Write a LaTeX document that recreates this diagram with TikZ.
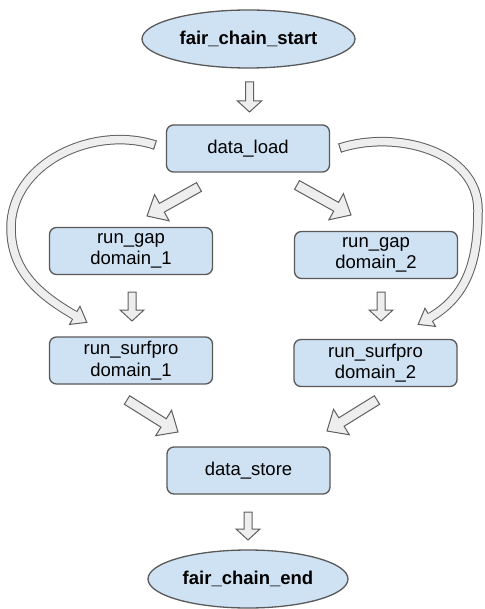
\documentclass[tikz,border=0pt]{standalone}
\usepackage{fontspec}
\setmainfont{Liberation Sans}
\usetikzlibrary{shapes.geometric,calc,decorations.markings}

\definecolor{boxfill}{HTML}{CFE2F3}
\definecolor{boxline}{HTML}{595959}
\definecolor{arrowfill}{HTML}{EEEEEE}
\definecolor{arrowline}{HTML}{5F5F5F}

\tikzset{
  x=1pt, y=1pt,
  stepbox/.style={draw=boxline, fill=boxfill, line width=1.3pt, rounded corners=7pt,
    minimum width=163pt, minimum height=47pt, inner sep=0pt, align=center,
    font=\fontsize{18.5}{21.5}\selectfont},
  terminal/.style={ellipse, draw=boxline, fill=boxfill, line width=1.3pt,
    minimum height=58pt, inner sep=0pt,
    font=\bfseries\fontsize{18.5}{21.5}\selectfont},
  hollow/.style={draw=arrowline, fill=arrowfill, line width=1pt, line join=miter},
}

% straight hollow block arrow: #1 shaft half width, #2 head half width,
% #3 head length, #4 tail coordinate, #5 tip coordinate
\newcommand\hollowarrow[5]{%
  \draw[hollow] let \p1=(#4), \p2=(#5),
      \n1={atan2(\y2-\y1,\x2-\x1)}, \n2={veclen(\x2-\x1,\y2-\y1)} in
    ($(\p1)+(\n1+90:#1)$)
    -- ($(\p1)+(\n1:\n2-#3)+(\n1+90:#1)$)
    -- ($(\p1)+(\n1:\n2-#3)+(\n1+90:#2)$)
    -- (\p2)
    -- ($(\p1)+(\n1:\n2-#3)+(\n1-90:#2)$)
    -- ($(\p1)+(\n1:\n2-#3)+(\n1-90:#1)$)
    -- ($(\p1)+(\n1-90:#1)$) -- cycle;}

% curved hollow band arrow along the path #1, ending in a head
\newcommand\bandarrow[1]{%
  \draw[arrowline, line width=9.5pt] #1;
  \draw[arrowfill, line width=7.5pt] #1;
  \path[decorate, decoration={markings,
    mark=at position 0 with {\draw[arrowline, line width=1pt] (0,-4.75) -- (0,4.75);},
    mark=at position 0.999 with {%
      \fill[arrowfill] (-1.5,3.8) -- (0,3.8) -- (0,10.5) -- (14,0) -- (0,-10.5) -- (0,-3.8) -- (-1.5,-3.8) -- cycle;
      \draw[arrowline, line width=1pt, line join=miter] (0,4.25) -- (0,10.5) -- (14,0) -- (0,-10.5) -- (0,-4.25);}}] #1;}

\begin{document}
\begin{tikzpicture}
  \useasboundingbox (0,0) rectangle (484,-609);

  % nodes
  \node[terminal, minimum width=213pt] (start) at (248.5,-39) {fair\_chain\_start};
  \node[stepbox] (load)  at (248,-148.5) {data\_load};
  \node[stepbox] (gap1)  at (131,-251)   {run\_gap\\domain\_1};
  \node[stepbox] (gap2)  at (376,-255)   {run\_gap\\domain\_2};
  \node[stepbox] (surf1) at (131,-360.5) {run\_surfpro\\domain\_1};
  \node[stepbox] (surf2) at (375.5,-363) {run\_surfpro\\domain\_2};
  \node[stepbox] (store) at (248.5,-470.5) {data\_store};
  \node[terminal, minimum width=200pt] (end) at (248,-579) {fair\_chain\_end};

  % arrow end points
  \coordinate (a1s) at (249.5,-82);  \coordinate (a1e) at (249.5,-112);
  \coordinate (a2s) at (199,-187);   \coordinate (a2e) at (147,-216);
  \coordinate (a3s) at (297,-185);   \coordinate (a3e) at (351,-215);
  \coordinate (a4s) at (132,-292);   \coordinate (a4e) at (132,-321);
  \coordinate (a5s) at (381,-292);   \coordinate (a5e) at (381,-321);
  \coordinate (a6s) at (127,-400);   \coordinate (a6e) at (178,-432);
  \coordinate (a7s) at (377,-400);   \coordinate (a7e) at (327,-431);
  \coordinate (a8s) at (248,-512);   \coordinate (a8e) at (248,-540);

  \coordinate (ltail) at (155,-145); \coordinate (lside) at (11,-228);  \coordinate (lhead) at (75,-315.5);
  \coordinate (rtail) at (340,-148); \coordinate (rside) at (478,-210); \coordinate (rhead) at (430,-317.5);

  % straight block arrows
  \hollowarrow{4}{12}{11}{a1s}{a1e}
  \hollowarrow{5}{15}{17}{a2s}{a2e}
  \hollowarrow{5}{15}{17}{a3s}{a3e}
  \hollowarrow{4}{12}{11}{a4s}{a4e}
  \hollowarrow{4}{12}{11}{a5s}{a5e}
  \hollowarrow{5}{15}{17}{a6s}{a6e}
  \hollowarrow{5}{15}{17}{a7s}{a7e}
  \hollowarrow{4}{12}{11}{a8s}{a8e}

  % curved bypass arrows
  \bandarrow{(ltail) to[out=162,in=90] (lside) to[out=-90,in=150] (lhead)}
  \bandarrow{(rtail) to[out=18,in=90] (rside) to[out=-90,in=30] (rhead)}
\end{tikzpicture}
\end{document}
